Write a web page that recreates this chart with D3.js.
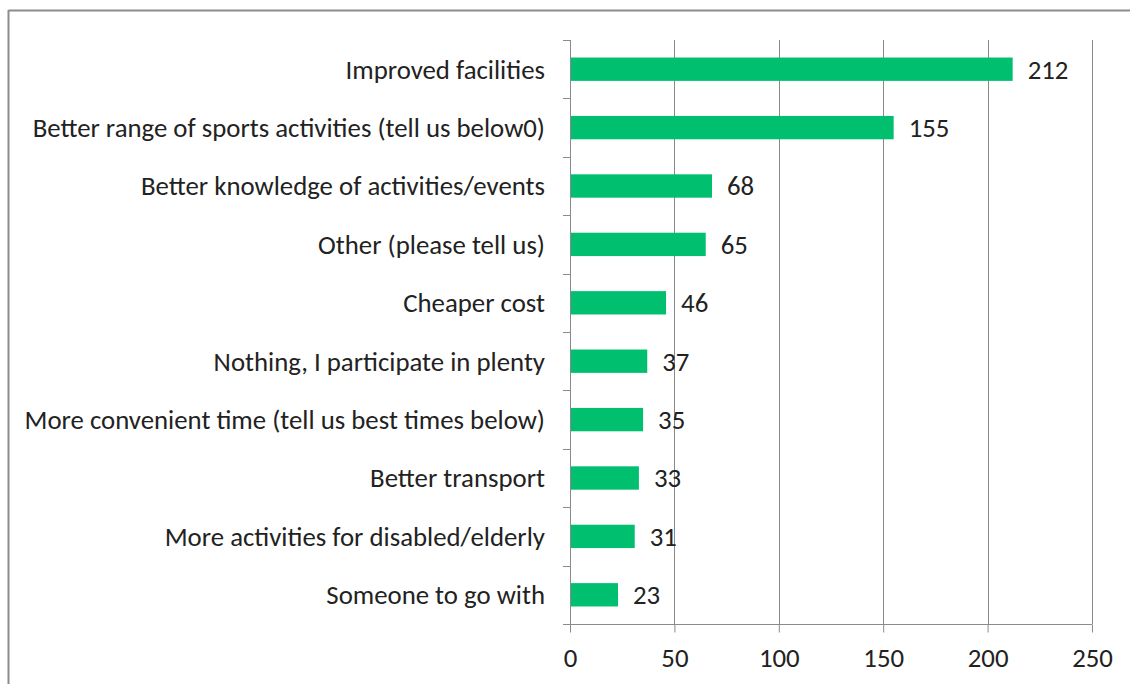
<!DOCTYPE html>
<html><head><meta charset="utf-8">
<script src="https://cdn.jsdelivr.net/npm/d3@7"></script>
<style>
body{margin:0;background:#fff;}
text{font-family:Carlito,"Open Sans","Liberation Sans",sans-serif;fill:#222;}
</style></head>
<body><svg id="chart" width="1130" height="684"></svg>
<script>
const categories = [
  "Improved facilities",
  "Better range of sports activities (tell us below0)",
  "Better knowledge of activities/events",
  "Other (please tell us)",
  "Cheaper cost",
  "Nothing, I participate in plenty",
  "More convenient time (tell us best times below)",
  "Better transport",
  "More activities for disabled/elderly",
  "Someone to go with"
];
const values = [212, 155, 68, 65, 46, 37, 35, 33, 31, 23];
const xTicks = [0, 50, 100, 150, 200, 250];

(function(){
const svg = d3.select("#chart");
const L = 570, R = 1092, T = 40, B = 624;
const FS = "26.8px";
const x = d3.scaleLinear().domain([0, 250]).range([L, R]);
const y = d3.scaleBand().domain(categories).range([T, B]).paddingInner(0.6).paddingOuter(0.3);
const band = (B - T) / categories.length;

svg.append("line").attr("x1",8.5).attr("x2",1130).attr("y1",10.5).attr("y2",10.5).attr("stroke","#8c8c8c").attr("stroke-width",2);
svg.append("line").attr("x1",8.5).attr("x2",8.5).attr("y1",10).attr("y2",684).attr("stroke","#8c8c8c").attr("stroke-width",2);

svg.append("g").selectAll("line").data(xTicks.slice(1)).join("line")
  .attr("x1",d=>Math.round(x(d))+0.5).attr("x2",d=>Math.round(x(d))+0.5)
  .attr("y1",T).attr("y2",B)
  .attr("stroke","#8a8a8a").attr("stroke-width",1);

const xa = svg.append("g").attr("transform",`translate(0,${B+0.5})`)
  .call(d3.axisBottom(x).tickValues(xTicks).tickSize(8).tickPadding(15));
xa.select(".domain").attr("stroke","#8a8a8a").attr("d",`M${L},0H${R}`);
xa.selectAll(".tick line").attr("stroke","#8a8a8a");
xa.selectAll("text").style("font-size",FS).attr("fill","#222").style("font-family",null);

svg.append("line").attr("x1",L+0.5).attr("x2",L+0.5).attr("y1",T).attr("y2",B+8).attr("stroke","#8a8a8a");
svg.append("g").selectAll("line").data(d3.range(categories.length+1)).join("line")
  .attr("x1",L-7).attr("x2",L).attr("y1",i=>Math.round(T+i*band)+0.5).attr("y2",i=>Math.round(T+i*band)+0.5)
  .attr("stroke","#8a8a8a");

svg.append("g").selectAll("text").data(categories).join("text")
  .attr("x",L-25).attr("y",d=>y(d)+y.bandwidth()/2).attr("dy","0.35em")
  .attr("text-anchor","end").style("font-size",FS).text(d=>d);

svg.append("g").selectAll("rect").data(values).join("rect")
  .attr("x",L+1).attr("y",(d,i)=>y(categories[i]))
  .attr("width",d=>x(d)-L-1).attr("height",y.bandwidth())
  .attr("fill","#00bf6f");

svg.append("g").selectAll("text").data(values).join("text")
  .attr("x",d=>x(d)+15).attr("y",(d,i)=>y(categories[i])+y.bandwidth()/2).attr("dy","0.35em")
  .style("font-size",FS).text(d=>d);
})();
</script></body></html>
